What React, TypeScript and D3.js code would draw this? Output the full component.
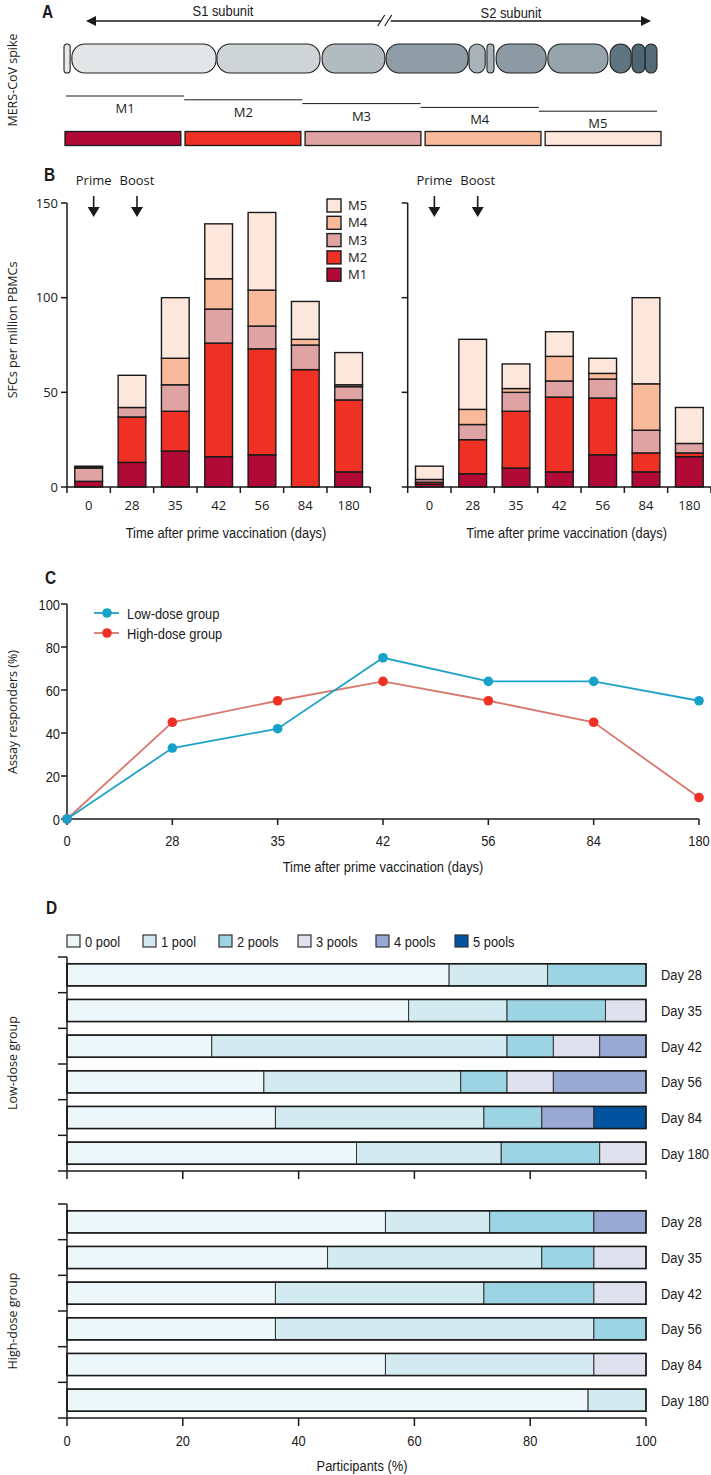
import React from 'react';
import * as d3 from 'd3';

// ---------- DATA ----------
const days = ['0', '28', '35', '42', '56', '84', '180'];
const modules = ['M1', 'M2', 'M3', 'M4', 'M5'];
const moduleColors = ['#b20a37', '#ee3124', '#e0a3a3', '#f9b99b', '#fde6dc'];

// Panel B left (SFCs per million PBMCs), per module, per day
const leftM1 = [3, 13, 19, 16, 17, 0, 8];
const leftM2 = [0, 24, 21, 60, 56, 62, 38];
const leftM3 = [7, 5, 14, 18, 12, 13, 7];
const leftM4 = [0.5, 0, 14, 16, 19, 3, 1];
const leftM5 = [0.5, 17, 32, 29, 41, 20, 17];

// Panel B right
const rightM1 = [1.5, 7, 10, 8, 17, 8, 16];
const rightM2 = [1, 18, 30, 39.5, 30, 10, 2];
const rightM3 = [1.5, 8, 10, 8.5, 10, 12, 5];
const rightM4 = [0, 8, 2, 13, 3, 24.5, 0];
const rightM5 = [7, 37, 13, 13, 8, 45.5, 19];

const sfcTicks = [0, 50, 100, 150];

// Panel C
const lowDoseResponders = [0, 33, 42, 75, 64, 64, 55];
const highDoseResponders = [0, 45, 55, 64, 55, 45, 10];
const responderTicks = [0, 20, 40, 60, 80, 100];

// Panel D
const poolLabels = ['0 pool', '1 pool', '2 pools', '3 pools', '4 pools', '5 pools'];
const poolColors = ['#edf6f9', '#d3eaf0', '#9dd4e3', '#dfe1ef', '#9aa9d3', '#02539f'];
const dayLabels = ['Day 28', 'Day 35', 'Day 42', 'Day 56', 'Day 84', 'Day 180'];
// percentages per pool count [0,1,2,3,4,5]
const lowPool28 = [66, 17, 17, 0, 0, 0];
const lowPool35 = [59, 17, 17, 7, 0, 0];
const lowPool42 = [25, 51, 8, 8, 8, 0];
const lowPool56 = [34, 34, 8, 8, 16, 0];
const lowPool84 = [36, 36, 10, 0, 9, 9];
const lowPool180 = [50, 25, 17, 8, 0, 0];
const highPool28 = [55, 18, 18, 0, 9, 0];
const highPool35 = [45, 37, 9, 9, 0, 0];
const highPool42 = [36, 36, 19, 9, 0, 0];
const highPool56 = [36, 55, 9, 0, 0, 0];
const highPool84 = [55, 36, 0, 9, 0, 0];
const highPool180 = [90, 10, 0, 0, 0, 0];
const participantTicks = [0, 20, 40, 60, 80, 100];

// Panel A spike schematic (residue positions)
const spikeStart = [0, 18, 349, 589, 735, 924, 965, 986, 1104, 1246, 1296, 1326];
const spikeEnd = [14, 347, 584, 732, 922, 961, 981, 1100, 1241, 1294, 1326, 1353];
const spikeColors = ['#e6e8e9', '#e3e5e6', '#cfd4d7', '#b1bbc0', '#8f9ea6', '#a9b4ba', '#a9b4ba', '#8c9ba3', '#95a3aa', '#5e7480', '#4f6773', '#546b77'];
const spikeLength = 1353;
const breakPoint = 734;

// ---------- STYLE ----------
const COND = "'Liberation Sans', Arial, sans-serif";
const SANS = "'Open Sans', 'Noto Sans', sans-serif";
const INK = '#1a1a1a';

// condensed text: a regular face squeezed horizontally
function CT({ x, y, children, anchor = 'start', size = 15, weight = 'normal', sx = 0.86 }: any) {
  return (
    <text transform={`translate(${x},${y}) scale(${sx},1)`} textAnchor={anchor} fontSize={size}
      fontWeight={weight} fontFamily={COND} fill={INK}>{children}</text>
  );
}

function stackData(arrs: number[][]) {
  const rows = days.map((d, i) => {
    const o: any = { day: d };
    modules.forEach((m, j) => (o[m] = arrs[j][i]));
    return o;
  });
  return d3.stack<any>().keys(modules)(rows);
}

function PanelB({ x0, arrs, showLabels, showLegend }: { x0: number; arrs: number[][]; showLabels: boolean; showLegend: boolean }) {
  const x = d3.scaleBand().domain(days).range([x0, x0 + 303.3]).paddingInner(0.36).paddingOuter(0.18);
  const y = d3.scaleLinear().domain([0, 150]).range([487, 203]);
  const series = stackData(arrs);
  const step = x.step();
  const bounds = d3.range(days.length + 1).map((i) => x0 + i * step);
  return (
    <g>
      {series.map((s, j) =>
        s.map((d, i) => {
          const h = y(d[0]) - y(d[1]);
          if (h <= 0) return null;
          return (
            <rect key={`${j}-${i}`} x={x(days[i])} y={y(d[1])} width={x.bandwidth()} height={h}
              fill={moduleColors[j]} stroke={INK} strokeWidth={1.4} />
          );
        })
      )}
      {/* y axis */}
      <line x1={x0} x2={x0} y1={y(150)} y2={y(0)} stroke={INK} strokeWidth={1.5} />
      {sfcTicks.map((t) => (
        <g key={t}>
          <line x1={x0 - 6} x2={x0} y1={y(t)} y2={y(t)} stroke={INK} strokeWidth={1.5} />
          {showLabels && (
            <text x={x0 - 9} y={y(t) + 4.5} textAnchor="end" fontSize={13} fontFamily={SANS} fill={INK}>{t}</text>
          )}
        </g>
      ))}
      {/* x axis */}
      <line x1={x0} x2={bounds[bounds.length - 1]} y1={y(0)} y2={y(0)} stroke={INK} strokeWidth={1.5} />
      {bounds.map((b, i) => (
        <line key={i} x1={b} x2={b} y1={y(0)} y2={y(0) + 6} stroke={INK} strokeWidth={1.5} />
      ))}
      {days.map((d) => (
        <text key={d} x={(x(d) as number) + x.bandwidth() / 2} y={510} textAnchor="middle" fontSize={13} fontFamily={SANS} fill={INK}>{d}</text>
      ))}
      <CT x={x0 + 159} y={538} anchor="middle" size={15}>Time after prime vaccination (days)</CT>
      {/* Prime / Boost */}
      {[0, 1].map((i) => {
        const cx = (x(days[i]) as number) + x.bandwidth() / 2 + 5;
        return (
          <g key={i}>
            <text x={cx} y={185} textAnchor="middle" fontSize={13} fontFamily={SANS} fill={INK}>{i === 0 ? 'Prime' : 'Boost'}</text>
            <line x1={cx} x2={cx} y1={196} y2={209} stroke={INK} strokeWidth={1.6} />
            <path d={`M${cx - 6},${207} L${cx + 6},${207} L${cx},${217} Z`} fill={INK} />
          </g>
        );
      })}
      {showLegend &&
        modules.slice().reverse().map((m, i) => {
          const j = modules.length - 1 - i;
          const ly = 199 + i * 17.3;
          return (
            <g key={m}>
              <rect x={327} y={ly} width={14} height={13} fill={moduleColors[j]} stroke={INK} strokeWidth={1.4} />
              <text x={348} y={ly + 11} fontSize={13} fontFamily={SANS} fill={INK}>{m}</text>
            </g>
          );
        })}
    </g>
  );
}

function PanelD({ top, rows, showXLabels }: { top: number; rows: number[][]; showXLabels: boolean }) {
  const x = d3.scaleLinear().domain([0, 100]).range([67, 646]);
  const y = d3.scaleBand().domain(dayLabels).range([top, top + 214]).paddingInner(0.38).paddingOuter(0.19);
  const step = y.step();
  const bounds = d3.range(dayLabels.length + 1).map((i) => top + i * step);
  const bottom = top + 214;
  return (
    <g>
      {rows.map((r, i) => {
        const cum = d3.cumsum(r);
        const yy = y(dayLabels[i]) as number;
        return (
          <g key={i}>
            {r.map((v, k) => {
              if (v <= 0) return null;
              const a = k === 0 ? 0 : cum[k - 1];
              return (
                <rect key={k} x={x(a)} y={yy} width={x(a + v) - x(a)} height={y.bandwidth()} fill={poolColors[k]} stroke="#333" strokeWidth={1} />
              );
            })}
            <rect x={x(0)} y={yy} width={x(100) - x(0)} height={y.bandwidth()} fill="none" stroke={INK} strokeWidth={1.6} />
            <CT x={661} y={yy + y.bandwidth() / 2 + 5.5}>{dayLabels[i]}</CT>
          </g>
        );
      })}
      <line x1={67} x2={67} y1={top} y2={bottom} stroke={INK} strokeWidth={1.5} />
      {bounds.map((b, i) => (
        <line key={i} x1={58} x2={67} y1={b} y2={b} stroke={INK} strokeWidth={1.5} />
      ))}
      <line x1={67} x2={646} y1={bottom} y2={bottom} stroke={INK} strokeWidth={1.5} />
      {participantTicks.map((t) => (
        <g key={t}>
          <line x1={x(t)} x2={x(t)} y1={bottom} y2={bottom + 8} stroke={INK} strokeWidth={1.5} />
          {showXLabels && <CT x={x(t)} y={bottom + 28} anchor="middle">{t}</CT>}
        </g>
      ))}
    </g>
  );
}

export default function App() {
  // Panel A scales
  const sx = d3.scaleLinear().domain([0, spikeLength]).range([64, 657]);
  const mBand = d3.scaleBand().domain(modules).range([65, 661]).paddingInner(0.035);
  const mLine = d3.scaleBand().domain(modules).range([66, 657]);

  // Panel C scales
  const cx = d3.scalePoint().domain(days).range([67, 699]);
  const cy = d3.scaleLinear().domain([0, 100]).range([819, 604]);
  const lineGen = d3.line<number>().x((_, i) => cx(days[i]) as number).y((v) => cy(v));

  const lowRows = [lowPool28, lowPool35, lowPool42, lowPool56, lowPool84, lowPool180];
  const highRows = [highPool28, highPool35, highPool42, highPool56, highPool84, highPool180];

  const bx = sx(breakPoint);

  return (
    <svg width={711} height={1475} style={{ position: 'absolute', left: 0, top: 0, background: '#fff' }}>
      <rect width={711} height={1475} fill="#fff" />
      {/* ---------- Panel A ---------- */}
      <CT x={42} y={18} size={18} weight="bold">A</CT>
      <CT x={223} y={16} anchor="middle" size={15}>S1 subunit</CT>
      <CT x={511} y={18} anchor="middle" size={15}>S2 subunit</CT>
      <line x1={92} x2={bx - 5} y1={21} y2={21} stroke={INK} strokeWidth={1.4} />
      <line x1={bx + 5} x2={644} y1={21} y2={21} stroke={INK} strokeWidth={1.4} />
      <line x1={bx - 8} x2={bx - 1} y1={26} y2={15} stroke={INK} strokeWidth={1.2} />
      <line x1={bx - 1} x2={bx + 6} y1={26} y2={15} stroke={INK} strokeWidth={1.2} />
      <path d="M86,21 L96,16 L96,26 Z" fill={INK} />
      <path d="M651,21 L641,16 L641,26 Z" fill={INK} />
      {spikeStart.map((s, i) => {
        const w = sx(spikeEnd[i]) - sx(s);
        return (
          <rect key={i} x={sx(s)} y={44} width={w} height={29} rx={Math.min(13, w / 2)} ry={Math.min(13, w / 2)}
            fill={spikeColors[i]} stroke="#222" strokeWidth={1.1} />
        );
      })}
      <text transform="translate(17,80) rotate(-90)" textAnchor="middle" fontSize={12.5} fontFamily={SANS} fill={INK}>MERS-CoV spike</text>
      {modules.map((m, i) => {
        const lx = mLine(m) as number;
        const ly = 96 + i * 3.8;
        return (
          <g key={m}>
            <line x1={lx} x2={lx + mLine.step()} y1={ly} y2={ly} stroke={INK} strokeWidth={1} />
            <text x={lx + mLine.step() / 2} y={ly + 17} textAnchor="middle" fontSize={13} fontFamily={SANS} fill={INK}>{m}</text>
            <rect x={mBand(m)} y={131.5} width={mBand.bandwidth()} height={14} fill={moduleColors[i]} stroke={INK} strokeWidth={1.3} />
          </g>
        );
      })}

      {/* ---------- Panel B ---------- */}
      <CT x={44} y={181} size={18} weight="bold">B</CT>
      <text transform="translate(17,330) rotate(-90)" textAnchor="middle" fontSize={12.5} fontFamily={SANS} fill={INK}>SFCs per million PBMCs</text>
      <PanelB x0={67} arrs={[leftM1, leftM2, leftM3, leftM4, leftM5]} showLabels={true} showLegend={true} />
      <PanelB x0={407.7} arrs={[rightM1, rightM2, rightM3, rightM4, rightM5]} showLabels={false} showLegend={false} />

      {/* ---------- Panel C ---------- */}
      <CT x={45} y={584} size={18} weight="bold">C</CT>
      <text transform="translate(17,712) rotate(-90)" textAnchor="middle" fontSize={12.5} fontFamily={SANS} fill={INK}>Assay responders (%)</text>
      <line x1={67} x2={67} y1={cy(100)} y2={cy(0)} stroke={INK} strokeWidth={1.5} />
      {responderTicks.map((t) => (
        <g key={t}>
          <line x1={61} x2={67} y1={cy(t)} y2={cy(t)} stroke={INK} strokeWidth={1.5} />
          <CT x={60} y={cy(t) + 5.5} anchor="end">{t}</CT>
        </g>
      ))}
      <line x1={67} x2={699} y1={cy(0)} y2={cy(0)} stroke={INK} strokeWidth={1.5} />
      {days.map((d) => (
        <g key={d}>
          <line x1={cx(d)} x2={cx(d)} y1={cy(0)} y2={cy(0) + 6} stroke={INK} strokeWidth={1.5} />
          <CT x={cx(d)} y={846} anchor="middle">{d}</CT>
        </g>
      ))}
      <CT x={383} y={872} anchor="middle">Time after prime vaccination (days)</CT>
      <path d={lineGen(highDoseResponders) as string} fill="none" stroke="#d9786c" strokeWidth={1.8} />
      <path d={lineGen(lowDoseResponders) as string} fill="none" stroke="#1da2c8" strokeWidth={1.8} />
      {highDoseResponders.map((v, i) => (
        <circle key={'h' + i} cx={cx(days[i])} cy={cy(v)} r={4.8} fill="#ee3124" />
      ))}
      {lowDoseResponders.map((v, i) => (
        <circle key={'l' + i} cx={cx(days[i])} cy={cy(v)} r={4.8} fill="#17a0c8" />
      ))}
      <line x1={94} x2={119} y1={613} y2={613} stroke="#1da2c8" strokeWidth={1.8} />
      <circle cx={107} cy={613} r={4.8} fill="#17a0c8" />
      <CT x={127} y={618.5}>Low-dose group</CT>
      <line x1={94} x2={119} y1={633} y2={633} stroke="#d9786c" strokeWidth={1.8} />
      <circle cx={107} cy={633} r={4.8} fill="#ee3124" />
      <CT x={127} y={638.5}>High-dose group</CT>

      {/* ---------- Panel D ---------- */}
      <CT x={46} y={914} size={18} weight="bold">D</CT>
      {poolLabels.map((p, i) => {
        const lx = [67, 143, 219, 298, 376, 455][i];
        return (
          <g key={p}>
            <rect x={lx} y={935} width={13} height={12} fill={poolColors[i]} stroke="#333" strokeWidth={1.2} />
            <CT x={lx + 18} y={946.5}>{p}</CT>
          </g>
        );
      })}
      <PanelD top={957} rows={lowRows} showXLabels={false} />
      <PanelD top={1204} rows={highRows} showXLabels={true} />
      <text transform="translate(17,1063) rotate(-90)" textAnchor="middle" fontSize={12.5} fontFamily={SANS} fill={INK}>Low-dose group</text>
      <text transform="translate(17,1321) rotate(-90)" textAnchor="middle" fontSize={12.5} fontFamily={SANS} fill={INK}>High-dose group</text>
      <CT x={362} y={1471} anchor="middle">Participants (%)</CT>
    </svg>
  );
}
